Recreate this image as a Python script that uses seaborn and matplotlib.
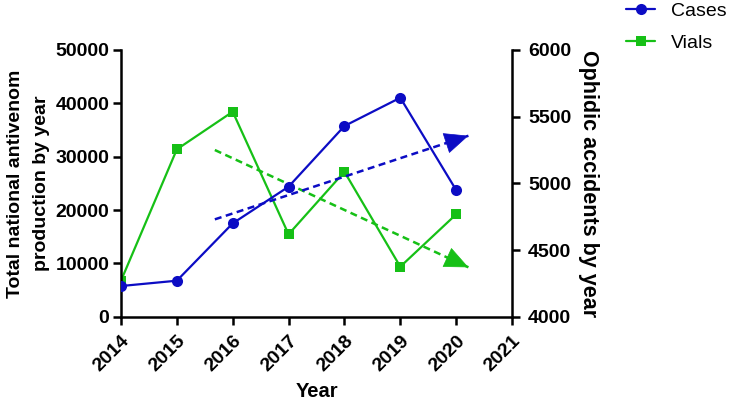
import numpy as np
import matplotlib
matplotlib.use('Agg')
import matplotlib.pyplot as plt
import seaborn as sns

# data
years = [2014, 2015, 2016, 2017, 2018, 2019, 2020]
cases = [4230, 4270, 4700, 4975, 5430, 5642, 4950]          # right axis
vials = [6750, 31380, 38430, 15450, 27180, 9375, 19190]     # left axis

# dashed trend arrows (start year, tip year)
trend_years = [2015.68, 2020.22]
cases_trend = [4730, 5357]
vials_trend = [31250, 9260]

BLUE = '#0C0CC4'
GREEN = '#16C016'

sns.set_style('ticks')
plt.rcParams.update({
    'font.family': ['Liberation Sans', 'DejaVu Sans'],
    'font.weight': 'bold',
    'text.color': 'black',
    'axes.labelcolor': 'black',
    'axes.edgecolor': 'black',
    'xtick.color': 'black',
    'ytick.color': 'black',
})

fig = plt.figure(figsize=(7.35, 4.09), dpi=100)
ax = fig.add_axes([121 / 735, 1 - 316.7 / 409, (512 - 121) / 735, (316.7 - 50) / 409])
ax2 = ax.twinx()

sns.lineplot(x=years, y=vials, ax=ax, color=GREEN, marker='s', markersize=7.5,
             markeredgewidth=0, linewidth=1.6, label='Vials', legend=False)
sns.lineplot(x=years, y=cases, ax=ax2, color=BLUE, marker='o', markersize=8,
             markeredgewidth=0, linewidth=1.6, label='Cases', legend=False)

# trend lines with arrow heads
for a, vals, col in [(ax, vials_trend, GREEN), (ax2, cases_trend, BLUE)]:
    a.plot(trend_years, vals, color=col, lw=1.8, linestyle=(0, (2.8, 1.8)))
    base_x = trend_years[1] - 0.4
    base_y = np.interp(base_x, trend_years, vals)
    a.annotate('', xy=(trend_years[1], vals[1]), xytext=(base_x, base_y),
               arrowprops=dict(arrowstyle='-|>,head_length=0.95,head_width=0.42',
                               mutation_scale=17, color=col, lw=0.5,
                               shrinkA=0, shrinkB=0))

ax.set_xlim(2014, 2021)
ax.set_ylim(0, 50000)
ax2.set_ylim(4000, 6000)
ax.set_xticks(range(2014, 2022))
ax.set_yticks(range(0, 50001, 10000))
ax2.set_yticks(range(4000, 6001, 500))

for a in (ax, ax2):
    for s in a.spines.values():
        s.set_linewidth(1.8)
        s.set_color('black')
    a.spines['top'].set_visible(False)
    a.tick_params(width=1.8, length=5.5, labelsize=14, pad=3, colors='black')
ax.spines['right'].set_visible(False)
ax2.spines['left'].set_visible(False)
ax2.spines['bottom'].set_visible(False)
ax.tick_params(axis='x', pad=6)
ax2.tick_params(axis='y', pad=6)

plt.setp(ax.get_xticklabels(), rotation=45, ha='right', rotation_mode='anchor')

ax.set_xlabel('Year', fontsize=14.5, fontweight='bold', labelpad=5)
ax.set_ylabel('Total national antivenom\nproduction by year', fontsize=14,
              fontweight='bold', linespacing=1.7, labelpad=4)
ax2.set_ylabel('Ophidic accidents by year', fontsize=15.5, fontweight='bold',
               rotation=270, va='bottom', labelpad=5)

handles = [ax2.get_lines()[0], ax.get_lines()[0]]
fig.legend(handles, ['Cases', 'Vials'], loc='upper left',
           bbox_to_anchor=(626 / 735, 1 - 2 / 409), frameon=False,
           prop={'size': 14, 'weight': 'normal'}, handlelength=1.5,
           handletextpad=0.8, labelspacing=0.75, borderpad=0, borderaxespad=0)

fig.savefig('out.png', dpi=100)
